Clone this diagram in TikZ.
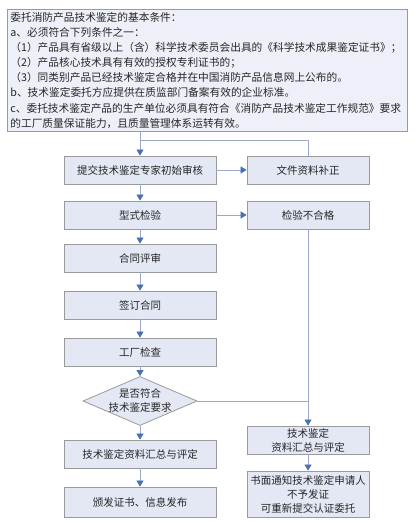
\documentclass[tikz,border=0pt]{standalone}
\usepackage{fontspec}
\newfontfamily\cjk{Noto Sans CJK SC}
\usetikzlibrary{arrows.meta,shapes.geometric}
\definecolor{boxfill}{HTML}{E4E8F4}
\definecolor{topfill}{HTML}{EDF0F8}
\definecolor{boxline}{HTML}{9A9A9A}
\definecolor{conline}{HTML}{9AAAC8}
\definecolor{tipblue}{HTML}{4A70B4}
\begin{document}
\begin{tikzpicture}[x=1pt,y=-1pt,
  every node/.style={font=\cjk\fontsize{10.5}{14}\selectfont, text=black!85},
  flowbox/.style={draw=boxline, fill=boxfill, line width=0.8pt, minimum width=152, minimum height=28, inner sep=1pt, align=center},
  sidebox/.style={flowbox, minimum width=122},
  conn/.style={draw=conline, line width=0.7pt},
  arr/.style={conn, -{Triangle[width=7pt,length=6pt,color=tipblue]}}]
\useasboundingbox (0,0) rectangle (417,524);

\node[draw=boxline, fill=topfill, line width=0.8pt, anchor=north west,
      minimum width=400, minimum height=121, text width=394, inner sep=3pt,
      align=left, font=\cjk\fontsize{10.7}{15.1}\selectfont] (cond) at (7,9)
 {委托消防产品技术鉴定的基本条件：\\
  a、必须符合下列条件之一：\\
  （1）产品具有省级以上（含）科学技术委员会出具的《科学技术成果鉴定证书》；\\
  （2）产品核心技术具有有效的授权专利证书的；\\
  （3）同类别产品已经技术鉴定合格并在中国消防产品信息网上公布的。\\
  b、技术鉴定委托方应提供在质监部门备案有效的企业标准。\\
  c、委托技术鉴定产品的生产单位必须具有符合《消防产品技术鉴定工作规范》要求\\
  的工厂质量保证能力，且质量管理体系运转有效。};

\node[flowbox] (b1) at (140,170) {提交技术鉴定专家初始审核};
\node[sidebox] (fix) at (308,170) {文件资料补正};
\node[flowbox] (b2) at (140,215) {型式检验};
\node[sidebox] (fail) at (308,215) {检验不合格};
\node[flowbox] (b3) at (140,258) {合同评审};
\node[flowbox] (b4) at (140,305) {签订合同};
\node[flowbox] (b5) at (140,352) {工厂检查};
\node[diamond, draw=boxline, fill=boxfill, line width=0.8pt, minimum width=114,
      minimum height=49, inner sep=0pt] (dec) at (140,401) {};
\node[align=center, inner sep=0pt] (dectext) at (dec.center) {是否符合\\技术鉴定要求};
\node[flowbox] (lsum) at (140,454) {技术鉴定资料汇总与评定};
\node[flowbox, minimum height=30] (issue) at (140,502) {颁发证书、信息发布};
\node[sidebox] (rsum) at (308,440) {技术鉴定\\资料汇总与评定};
\node[sidebox, minimum height=46] (notify) at (308,494) {书面通知技术鉴定申请人\\不予发证\\可重新提交认证委托};

\coordinate (join1) at (140,140);
\draw[arr] (cond.south -| b1.north) -- (b1.north);
\draw[conn] (fix.north) |- (join1);
\draw[arr] (b1) -- (fix);
\draw[arr] (b1) -- (b2);
\draw[arr] (b2) -- (fail);
\draw[arr] (b2) -- (b3);
\draw[arr] (b3) -- (b4);
\draw[arr] (b4) -- (b5);
\draw[arr] (b5) -- (dec);
\draw[arr] (dec) -- (lsum);
\draw[arr] (lsum) -- (issue);
\draw[arr] (fail) -- (rsum);
\draw[conn] (dec.east) -- (dec.east -| fail.south);
\draw[arr] (rsum) -- (notify);
\end{tikzpicture}
\end{document}
